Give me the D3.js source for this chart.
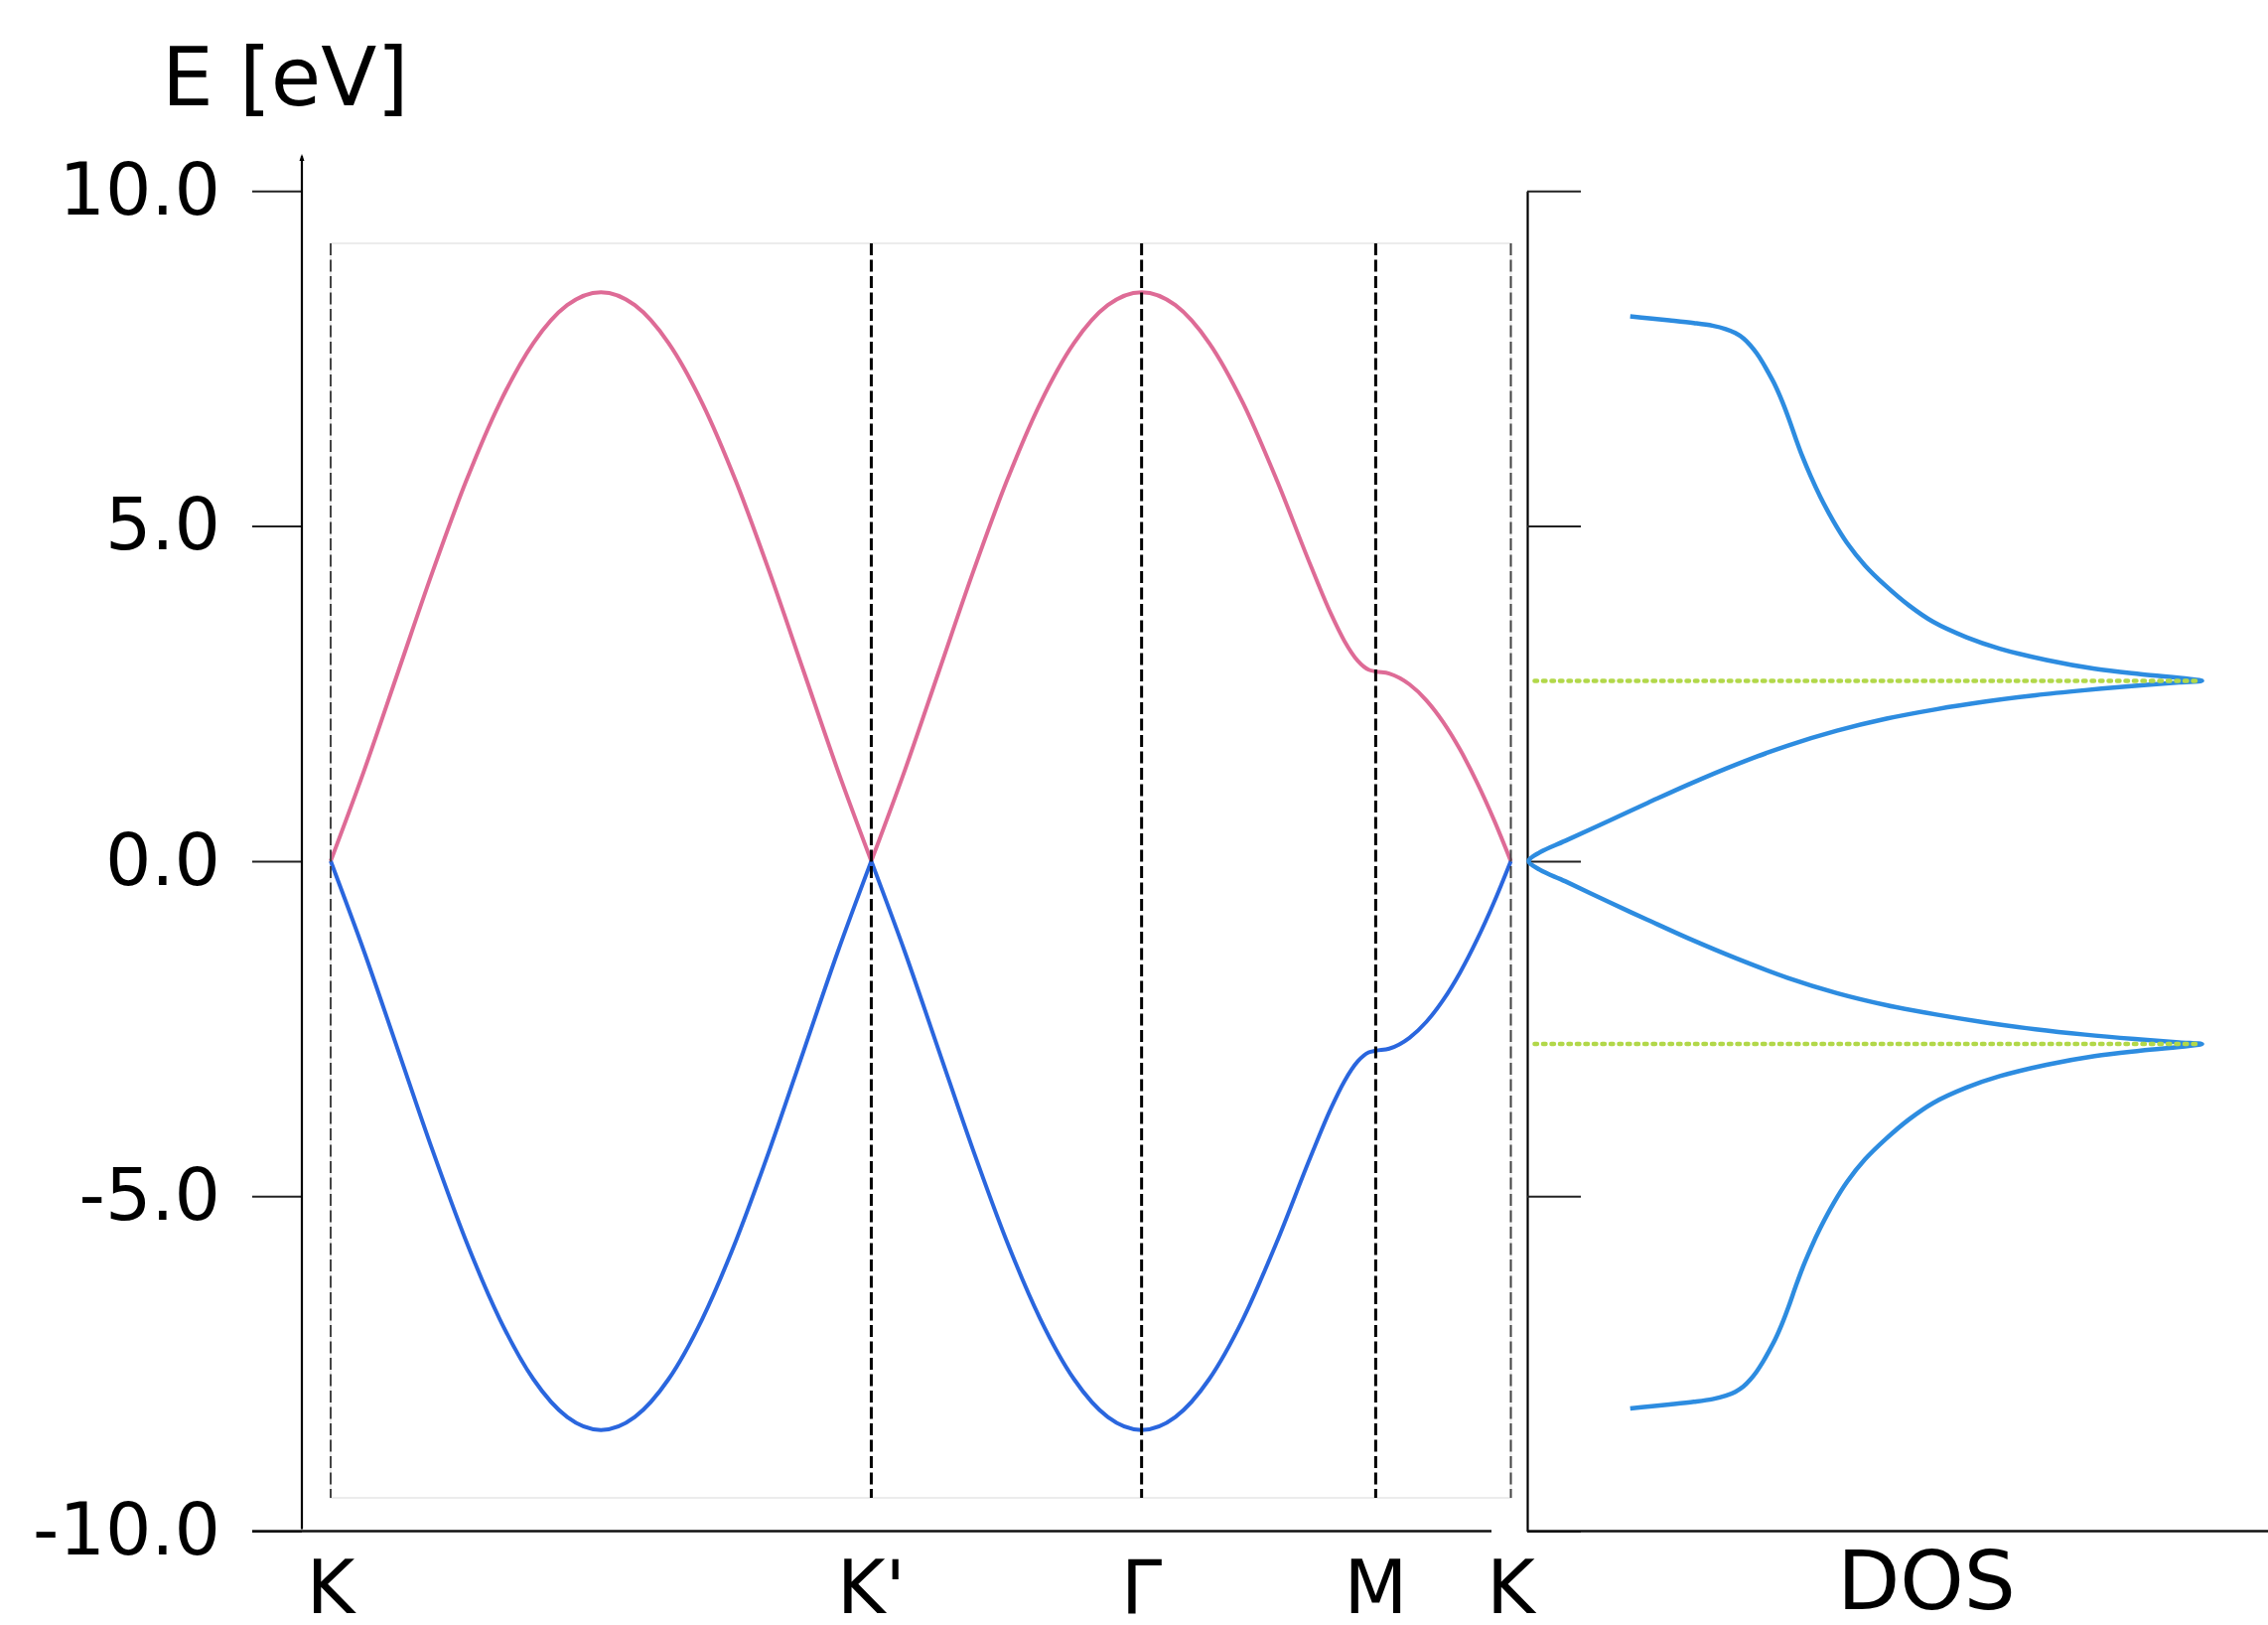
<!DOCTYPE html>
<html lang="en">
<head>
  <meta charset="UTF-8">
  <title>Band structure and DOS</title>
  <style>
    body { margin: 0; background: #fff; }
    svg text { font-family: "DejaVu Sans", Verdana, sans-serif; fill: #000; }
    .band { fill: none; stroke-width: 4; }
    .band-upper { stroke: #de6b96; }
    .band-lower { stroke: #2a66de; }
    .dos { fill: none; stroke: #2d8ce0; stroke-width: 4.5; }
    .vh { stroke: #b2d84a; stroke-width: 4.5; stroke-dasharray: 2.5 6; stroke-linecap: round; }
  </style>
</head>
<body>
<svg id="chart" width="2284" height="1636"></svg>

<script src="https://d3js.org/d3.v7.min.js"></script>
<script>
  // high symmetry points along the k path
  const kTicks = [0, 4, 6, 7.732, 8.732];
  const kLabels = ["K", "K'", "Γ", "M", "K"];
  const energyTicks = [-10, -5, 0, 5, 10];

  // bands (eV)
  const kPath = [0, 0.25, 0.5, 0.75, 1, 1.25, 1.5, 1.75, 2, 2.25, 2.5, 2.75, 3, 3.25, 3.5, 3.75, 4,
    4.25, 4.5, 4.75, 5, 5.25, 5.5, 5.75, 6,
    6.25, 6.5, 6.75, 7, 7.25, 7.4, 7.5, 7.6, 7.68, 7.732,
    7.832, 7.982, 8.107, 8.232, 8.357, 8.482, 8.607, 8.732];
  const bandUpper = [0, 1.365, 2.83, 4.295, 5.66, 6.832, 7.732, 8.297, 8.49, 8.297, 7.732, 6.832, 5.66, 4.295, 2.83, 1.365, 0,
    1.365, 2.83, 4.295, 5.66, 6.832, 7.732, 8.297, 8.49,
    8.297, 7.732, 6.837, 5.687, 4.415, 3.694, 3.287, 2.987, 2.855, 2.83,
    2.799, 2.637, 2.399, 2.072, 1.661, 1.172, 0.616, 0];
  const bandLower = [0, -1.365, -2.83, -4.295, -5.66, -6.832, -7.732, -8.297, -8.49, -8.297, -7.732, -6.832, -5.66, -4.295, -2.83, -1.365, 0,
    -1.365, -2.83, -4.295, -5.66, -6.832, -7.732, -8.297, -8.49,
    -8.297, -7.732, -6.837, -5.687, -4.415, -3.694, -3.287, -2.987, -2.855, -2.83,
    -2.799, -2.637, -2.399, -2.072, -1.661, -1.172, -0.616, 0];

  // density of states (arb. units) against energy, top to bottom
  const dosEnergy = [8.13, 8.10, 8.07, 8.03, 7.99, 7.94, 7.88, 7.80, 7.70, 7.58, 7.45, 7.30, 7.10, 6.85, 6.60, 6.30, 6.04, 5.74, 5.44, 5.07, 4.75, 4.41, 4.11, 3.81, 3.57, 3.34, 3.17, 3.00, 2.87, 2.79, 2.72, 2.69,
    2.665, 2.615, 2.55, 2.475, 2.38, 2.265, 2.125, 1.945, 1.72, 1.45, 1.15, 0.87, 0.60, 0.30, 0.13, 0,
    -0.13, -0.30, -0.61, -0.88, -1.16, -1.46, -1.74, -1.97, -2.15, -2.29, -2.41, -2.51, -2.59, -2.655, -2.705, -2.73,
    -2.76, -2.83, -2.91, -3.04, -3.21, -3.38, -3.61, -3.85, -4.15, -4.45, -4.79, -5.11, -5.48, -5.78, -6.08, -6.34, -6.64, -6.89, -7.14, -7.34, -7.49, -7.62, -7.74, -7.84, -7.92, -7.98, -8.03, -8.07, -8.11, -8.14, -8.17];
  const dosValue = [0.139, 0.165, 0.192, 0.225, 0.250, 0.268, 0.281, 0.292, 0.301, 0.3096, 0.3173, 0.325, 0.3347, 0.3446, 0.3532, 0.3627, 0.3714, 0.3828, 0.3955, 0.4134, 0.4316, 0.4561, 0.4838, 0.516, 0.548, 0.593, 0.638, 0.701, 0.766, 0.828, 0.893, 0.911,
    0.880, 0.820, 0.753, 0.686, 0.619, 0.552, 0.485, 0.418, 0.351, 0.284, 0.219, 0.163, 0.110, 0.051, 0.017, 0.002,
    0.017, 0.051, 0.110, 0.163, 0.219, 0.284, 0.351, 0.418, 0.485, 0.552, 0.619, 0.686, 0.753, 0.820, 0.880, 0.911,
    0.893, 0.828, 0.766, 0.701, 0.638, 0.593, 0.548, 0.516, 0.4838, 0.4561, 0.4316, 0.4134, 0.3955, 0.3828, 0.3714, 0.3627, 0.3532, 0.3446, 0.3347, 0.325, 0.3173, 0.3096, 0.301, 0.292, 0.281, 0.268, 0.250, 0.225, 0.192, 0.165, 0.139];

  // van Hove markers
  const vanHoveEnergy = [2.69, -2.73];
  const vanHoveDos = [0.01, 0.91];

  const svg = d3.select("#chart");

  // layout (pixels)
  const axisX = 304, dosAxisX = 1538;
  const frame = { left: 333, right: 1521.5, top: 245, bottom: 1508 };

  const y = d3.scaleLinear().domain([-10, 10]).range([1541.5, 192.3]);
  const xBand = d3.scaleLinear().domain([0, 8.732]).range([frame.left, frame.right]);
  const xDos = d3.scaleLinear().domain([0, 1]).range([dosAxisX, 2284]);

  // light frame of the band panel
  svg.append("rect")
     .attr("x", frame.left).attr("y", frame.top)
     .attr("width", frame.right - frame.left).attr("height", frame.bottom - frame.top)
     .attr("fill", "none").attr("stroke", "#ececec").attr("stroke-width", 2);

  // energy axis
  const yAxis = svg.append("g")
     .attr("transform", "translate(" + axisX + ",0)")
     .call(d3.axisLeft(y).tickValues(energyTicks).tickFormat(d => d.toFixed(1))
            .tickSize(50).tickPadding(32).tickSizeOuter(0));
  yAxis.attr("font-family", "DejaVu Sans, sans-serif").attr("font-size", 73);
  yAxis.select(".domain").remove();
  yAxis.selectAll(".tick line").attr("stroke", "#222").attr("stroke-width", 2);

  svg.append("line")
     .attr("x1", axisX).attr("x2", axisX)
     .attr("y1", 157).attr("y2", y(-10) - 2)
     .attr("stroke", "#000").attr("stroke-width", 2.2);
  svg.append("path")
     .attr("d", "M" + (axisX - 2.5) + ",162L" + axisX + ",155L" + (axisX + 2.5) + ",162Z")
     .attr("fill", "#000");

  // bottom line of band panel
  svg.append("line")
     .attr("x1", axisX - 50).attr("x2", 1502)
     .attr("y1", y(-10)).attr("y2", y(-10))
     .attr("stroke", "#111").attr("stroke-width", 2.6);

  // bands, split at K'
  const bandLine = d3.line()
     .x(d => xBand(d[0]))
     .y(d => y(d[1]))
     .curve(d3.curveMonotoneX);

  const split = kPath.indexOf(4);
  [[bandUpper, "band-upper"], [bandLower, "band-lower"]].forEach(([vals, cls]) => {
    const pts = kPath.map((k, i) => [k, vals[i]]);
    [pts.slice(0, split + 1), pts.slice(split)].forEach(seg => {
      svg.append("path").datum(seg).attr("class", "band " + cls).attr("d", bandLine);
    });
  });

  // high symmetry lines
  svg.selectAll(".kline")
     .data(kTicks)
     .join("line")
     .attr("class", "kline")
     .attr("x1", d => xBand(d)).attr("x2", d => xBand(d))
     .attr("y1", frame.top).attr("y2", frame.bottom)
     .attr("stroke", (d, i) => (i === 0 || i === kTicks.length - 1) ? "#444" : "#000")
     .attr("stroke-width", (d, i) => (i === 0 || i === kTicks.length - 1) ? 2 : 3)
     .attr("stroke-dasharray", "12 4.5");

  // k labels
  svg.selectAll(".klabel")
     .data(kTicks)
     .join("text")
     .attr("class", "klabel")
     .attr("x", d => xBand(d))
     .attr("y", 1624)
     .attr("text-anchor", "middle")
     .attr("font-size", 74)
     .text((d, i) => kLabels[i]);

  svg.append("text")
     .attr("x", 163).attr("y", 106)
     .attr("font-size", 82)
     .text("E [eV]");

  // DOS panel axis
  const dosAxis = svg.append("g")
     .attr("transform", "translate(" + dosAxisX + ",0)")
     .call(d3.axisRight(y).tickValues(energyTicks).tickFormat("").tickSize(54).tickSizeOuter(0));
  dosAxis.select(".domain").attr("stroke", "#000").attr("stroke-width", 2.2);
  dosAxis.selectAll(".tick line").attr("stroke", "#222").attr("stroke-width", 2);

  svg.append("line")
     .attr("x1", dosAxisX).attr("x2", 2284)
     .attr("y1", y(-10)).attr("y2", y(-10))
     .attr("stroke", "#111").attr("stroke-width", 2.6);

  const dosLine = d3.line()
     .x(d => xDos(d[1]))
     .y(d => y(d[0]))
     .curve(d3.curveCatmullRom.alpha(0.5));

  svg.append("path")
     .datum(dosEnergy.map((e, i) => [e, dosValue[i]]))
     .attr("class", "dos")
     .attr("d", dosLine);

  svg.selectAll(".vh")
     .data(vanHoveEnergy)
     .join("line")
     .attr("class", "vh")
     .attr("x1", xDos(vanHoveDos[0])).attr("x2", xDos(vanHoveDos[1]))
     .attr("y1", d => y(d)).attr("y2", d => y(d));

  svg.append("text")
     .attr("x", 1940).attr("y", 1620)
     .attr("text-anchor", "middle")
     .attr("font-size", 82)
     .text("DOS");
</script>
</body>
</html>
